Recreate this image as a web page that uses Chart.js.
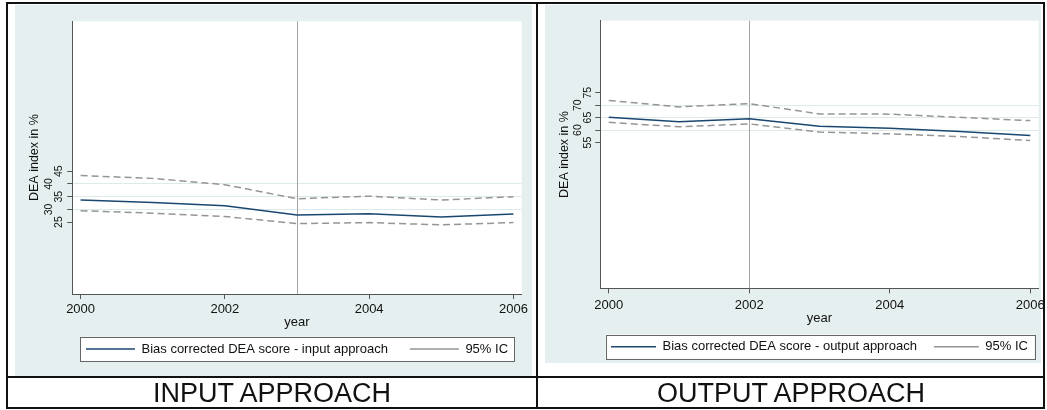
<!DOCTYPE html>
<html>
<head>
<meta charset="utf-8">
<script src="https://cdn.jsdelivr.net/npm/chart.js@4.4.1/dist/chart.umd.min.js"></script>
<style>
  body { margin: 0; width: 1047px; height: 410px; background: #fff; position: relative; overflow: hidden;
         font-family: "Liberation Sans", Arial, sans-serif; }
  .bg { position: absolute; background: #e6eff0; }
  .rule { position: absolute; background: #111; }
  canvas { position: absolute; }
  .caption { position: absolute; top: 378px; height: 30px; line-height: 30px; text-align: center;
             font-size: 27px; color: #111; }
</style>
</head>
<body>
<div class="bg" style="left:15px;top:5px;width:517px;height:371px"></div>
<div class="bg" style="left:545px;top:5px;width:496px;height:358px"></div>

<canvas id="input-chart" width="564" height="376" style="left:15px;top:4px"></canvas>
<canvas id="output-chart" width="549" height="372" style="left:545px;top:4px"></canvas>

<div class="caption" style="left:7px;width:530px">INPUT APPROACH</div>
<div class="caption" style="left:538px;width:506px">OUTPUT APPROACH</div>

<div class="rule" style="left:6px;top:2px;width:1039px;height:2px"></div>
<div class="rule" style="left:6px;top:407px;width:1039px;height:2px"></div>
<div class="rule" style="left:6px;top:2px;width:2px;height:407px"></div>
<div class="rule" style="left:1043px;top:2px;width:2px;height:407px"></div>
<div class="rule" style="left:536px;top:2px;width:2px;height:407px"></div>
<div class="rule" style="left:6px;top:376px;width:1039px;height:2px"></div>

<script>
// ── Data ──
const years = [2000, 2001, 2002, 2003, 2004, 2005, 2006];

const inputScore = [33.7, 32.7, 31.4, 27.8, 28.3, 27.0, 28.2];
const inputUpper = [43.3, 42.2, 39.7, 34.2, 35.2, 33.7, 35.0];
const inputLower = [29.5, 28.5, 27.2, 24.4, 24.8, 23.9, 24.8];

const outputScore = [65.1, 63.3, 64.5, 61.5, 60.7, 59.4, 57.8];
const outputUpper = [71.9, 69.3, 70.6, 66.5, 66.4, 65.1, 63.8];
const outputLower = [63.1, 61.3, 62.5, 59.2, 58.5, 57.4, 55.8];

const xTicks = [2000, 2002, 2004, 2006];
const inputYTicks = [25, 30, 35, 40, 45];
const outputYTicks = [55, 60, 65, 70, 75];
const inputRefYear = 2003;
const outputRefYear = 2002;

// ── Style ──
const NAVY = '#1a476f';
const GRAY = '#959595';
const AXIS = '#555';
const GRID = '#dde9eb';
const FONT = '"Liberation Sans", Arial, sans-serif';

const toPoints = vals => years.map((x, i) => ({ x, y: vals[i] }));

// vertical reference line (xline)
const refLine = {
  id: 'refLine',
  beforeDatasetsDraw(chart, args, opts) {
    const { ctx, chartArea } = chart;
    const x = Math.round(chart.scales.x.getPixelForValue(opts.year)) + 0.5;
    ctx.save();
    ctx.strokeStyle = '#a3a3a3';
    ctx.lineWidth = 1;
    ctx.beginPath();
    ctx.moveTo(x, chartArea.top);
    ctx.lineTo(x, chartArea.bottom);
    ctx.stroke();
    ctx.restore();
  }
};

// white plot region + frame around the legend, Stata style
function legendRect(chart, opts) {
  const boxes = chart.legend.legendHitBoxes;
  if (!boxes || !boxes.length) return null;
  const left = Math.min(...boxes.map(b => b.left)) - opts.padLeft;
  const right = Math.max(...boxes.map(b => b.left + b.width)) + opts.padRight;
  const top = boxes[0].top - opts.padTop;
  const bottom = boxes[0].top + boxes[0].height + opts.padBottom;
  return { left, right, top, bottom };
}

const legendBox = {
  id: 'legendBox',
  beforeDraw(chart, args, opts) {
    const ctx = chart.ctx;
    const a = chart.chartArea;
    ctx.save();
    ctx.fillStyle = '#fff';
    ctx.fillRect(a.left, a.top, a.right - a.left, a.bottom - a.top);
    const r = legendRect(chart, opts);
    if (r) ctx.fillRect(r.left, r.top, r.right - r.left, r.bottom - r.top);
    ctx.restore();
  },
  afterDraw(chart, args, opts) {
    const r = legendRect(chart, opts);
    if (!r) return;
    const ctx = chart.ctx;
    ctx.save();
    ctx.strokeStyle = '#666';
    ctx.lineWidth = 1;
    ctx.strokeRect(Math.round(r.left) + 0.5, Math.round(r.top) + 0.5,
                   Math.round(r.right - r.left), Math.round(r.bottom - r.top));
    ctx.restore();
  }
};

function makePanel(id, p) {
  return new Chart(document.getElementById(id), {
    type: 'line',
    data: {
      datasets: [
        { label: p.scoreLabel, data: toPoints(p.score), borderColor: NAVY, backgroundColor: NAVY,
          borderWidth: 1.5, pointRadius: 0, tension: 0 },
        { label: '95% IC', data: toPoints(p.upper), borderColor: GRAY, backgroundColor: GRAY,
          borderWidth: 1.5, borderDash: [7, 4], pointRadius: 0, tension: 0 },
        { label: 'lower', data: toPoints(p.lower), borderColor: GRAY, backgroundColor: GRAY,
          borderWidth: 1.5, borderDash: [7, 4], pointRadius: 0, tension: 0 }
      ]
    },
    options: {
      responsive: false,
      animation: false,
      events: [],
      layout: { padding: p.pad },
      scales: {
        x: {
          type: 'linear',
          min: p.xMin, max: p.xMax,
          afterBuildTicks: s => { s.ticks = xTicks.map(v => ({ value: v })); },
          afterFit: s => { s.height = p.xHeight; },
          grid: { display: true, drawOnChartArea: false, tickLength: 5, tickColor: AXIS },
          border: { display: true, color: AXIS, width: 1 },
          ticks: { autoSkip: false, maxRotation: 0, padding: p.xTickPad, color: '#111',
                   font: { family: FONT, size: 13 }, callback: v => String(v) },
          title: { display: true, text: 'year', color: '#111', font: { family: FONT, size: 13 },
                   padding: { top: 0, bottom: p.xTitlePad } }
        },
        y: {
          min: p.yMin, max: p.yMax,
          afterBuildTicks: s => { s.ticks = p.yTicks.map(v => ({ value: v })); },
          afterFit: s => { s.width = p.yWidth; },
          grid: {
            tickLength: 5, tickColor: AXIS,
            color: c => (c.tick && (c.tick.value === p.yTicks[0] || c.tick.value === p.yTicks[p.yTicks.length - 1]))
              ? 'rgba(0,0,0,0)' : GRID
          },
          border: { display: true, color: AXIS, width: 1 },
          ticks: {
            autoSkip: false, minRotation: 90, maxRotation: 90, crossAlign: 'center',
            padding: p.yTickPad, color: '#111',
            font: { family: FONT, size: 10.5, lineHeight: 10 / 10.5 },
            callback: (v, i) => (i % 2 === 0 ? ['', String(v)] : [String(v), ''])
          },
          title: { display: true, text: 'DEA index in %', color: '#111', font: { family: FONT, size: 12.5 },
                   padding: { top: p.yTitlePad, bottom: 0 } }
        },
        // empty right-hand box so the legend centres under the plot region
        spacer: {
          type: 'linear', position: 'right', display: true,
          grid: { display: false, drawTicks: false }, border: { display: false }, ticks: { display: false },
          afterFit: s => { s.width = p.yWidth; }
        }
      },
      plugins: {
        tooltip: { enabled: false },
        legend: {
          position: 'bottom',
          labels: {
            usePointStyle: true, pointStyle: 'line', pointStyleWidth: p.sampleWidth,
            padding: p.legendPad, color: '#111', font: { family: FONT, size: 13 },
            filter: item => item.datasetIndex < 2
          }
        },
        refLine: { year: p.refYear },
        legendBox: { padLeft: 5.5, padRight: 6.5, padTop: 5.7, padBottom: 5.5 }
      }
    },
    plugins: [refLine, legendBox]
  });
}

makePanel('input-chart', {
  scoreLabel: 'Bias corrected DEA score - input approach',
  score: inputScore, upper: inputUpper, lower: inputLower,
  yTicks: inputYTicks, refYear: inputRefYear,
  xMin: 1999.885, xMax: 2006.115, yMin: -3.3, yMax: 104.05,
  pad: { top: 9.3, left: 0, right: 0, bottom: 14.5 },
  yWidth: 57.3, xHeight: 26.5, xTickPad: 2.5, xTitlePad: -9.6,
  yTickPad: 7.2, yTitlePad: 11.8,
  sampleWidth: 49, legendPad: 22
});

makePanel('output-chart', {
  scoreLabel: 'Bias corrected DEA score - output approach',
  score: outputScore, upper: outputUpper, lower: outputLower,
  yTicks: outputYTicks, refYear: outputRefYear,
  xMin: 1999.88, xMax: 2006.12, yMin: -3.4, yMax: 103.8,
  pad: { top: 11, left: 0, right: 0, bottom: 12.8 },
  yWidth: 55.3, xHeight: 34.9, xTickPad: 3.9, xTitlePad: -2.9,
  yTickPad: 6.8, yTitlePad: 12.5,
  sampleWidth: 45, legendPad: 17
});
</script>
</body>
</html>
